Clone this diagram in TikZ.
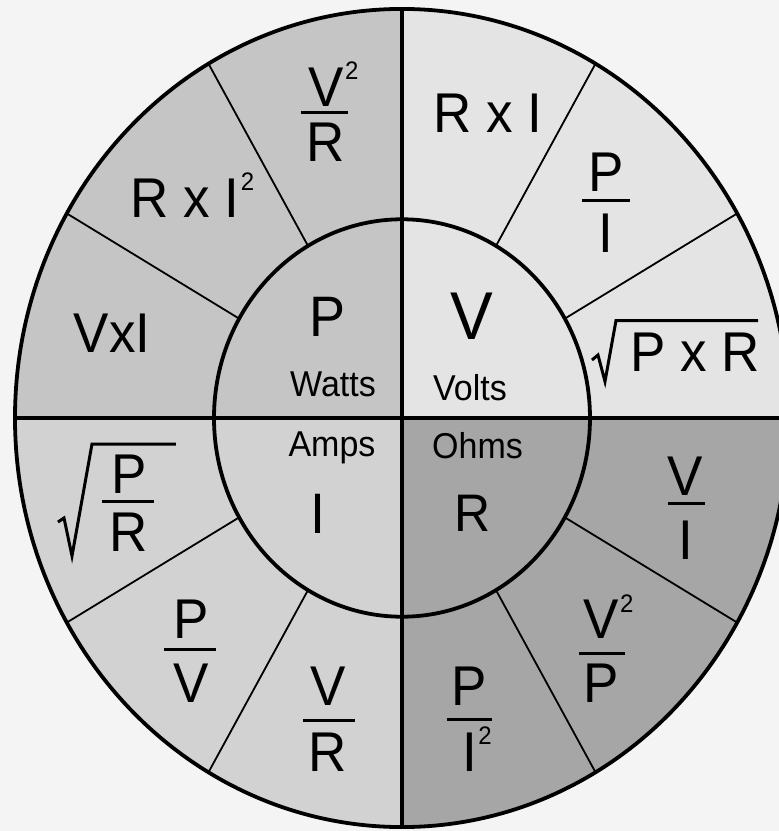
\documentclass[tikz,border=0pt]{standalone}
\usepackage{fontspec}
\setmainfont{Liberation Sans}
\newcommand\supTwo{\rlap{\hspace{1.5pt}\raisebox{25pt}{\fontsize{24}{24}\selectfont 2}}}
\definecolor{bgc}{HTML}{F4F4F4}
\definecolor{cP}{HTML}{C5C5C5}
\definecolor{cV}{HTML}{E4E4E4}
\definecolor{cI}{HTML}{D2D2D2}
\definecolor{cR}{HTML}{A6A6A6}
\begin{document}
\begin{tikzpicture}[x=1pt,y=1pt,
  txt/.style={inner sep=0pt, anchor=base, yscale=1.057, transform shape},
  big/.style={txt, font=\fontsize{53}{53}\selectfont},
  letterP/.style={txt, font=\fontsize{54}{54}\selectfont},
  letterV/.style={txt, font=\fontsize{64}{64}\selectfont},
  letterR/.style={txt, font=\fontsize{50}{50}\selectfont},
  unit/.style={txt, font=\fontsize{34}{34}\selectfont},
  thick line/.style={line width=3.8pt},
  sector line/.style={line width=1.8pt},
  fracbar/.style={line width=3pt},
  radical/.style={line width=3pt, line join=miter}]
\useasboundingbox (-402,-413) rectangle (377,418);
\fill[bgc] (-402,-413) rectangle (377,418);
\begin{scope}
\clip (-402,-413) rectangle (377,418);
\begin{scope}[yscale=1.057]
  \fill[cV] (0,0) -- (0:387) arc[start angle=0, end angle=90, radius=387] -- cycle;
  \fill[cP] (0,0) -- (90:387) arc[start angle=90, end angle=180, radius=387] -- cycle;
  \fill[cI] (0,0) -- (180:387) arc[start angle=180, end angle=270, radius=387] -- cycle;
  \fill[cR] (0,0) -- (270:387) arc[start angle=270, end angle=360, radius=387] -- cycle;
  \foreach \a in {30,60,120,150,210,240,300,330}
    \draw[sector line] (\a:188) -- (\a:387);
  \draw[thick line] (0,0) circle[radius=188];
  \draw[thick line] (-387,0) -- (400,0);
  \draw[thick line] (0,-387) -- (0,387);
  \draw[thick line] (0,0) circle[radius=387];
\end{scope}
\end{scope}
% inner labels
\node[letterP] (P) at (-74.5,82) {P};
\node[letterV] (V) at (70,78.5) {V};
\node[letterP] (I) at (-84,-115) {I};
\node[letterR] (R) at (71,-113.7) {R};
\node[unit] (watts) at (-69,22) {Watts};
\node[unit] (volts) at (68,18) {Volts};
\node[unit] (amps) at (-70,-38.7) {Amps};
\node[unit] (ohms) at (75.5,-40) {Ohms};
% P quadrant
\node[big] (pn1) at (-76,312) {V\supTwo};
\draw[fracbar] (-101,306) -- (-54,306);
\node[big] (pd1) at (-76.5,256.4) {R};
\node[big] (p2) at (-217,201) {R x I\supTwo};
\node[big] (p3) at (-290,65.6) {VxI};
% V quadrant
\node[big] (v1) at (86,285.5) {R x I};
\node[big] (vn2) at (204,227) {P};
\draw[fracbar] (180,218) -- (228,218);
\node[big] (vd2) at (204,166) {I};
\draw[radical] (190,58) -- (196,63) -- (203,36.5) -- (214,97.4) -- (356,97.4);
\node[big] (v3) at (293.5,47) {P x R};
% R quadrant
\node[big] (rn1) at (283.5,-77.5) {V};
\draw[fracbar] (266,-85.4) -- (303,-85.4);
\node[big] (rd1) at (283.5,-141) {I};
\node[big] (rn2) at (199,-220.6) {V\supTwo};
\draw[fracbar] (177,-235) -- (223,-235);
\node[big] (rd2) at (199,-284) {P};
\node[big] (rn3) at (67.5,-287) {P};
\draw[fracbar] (45,-301.7) -- (90,-301.7);
\node[big] (rd3) at (67.5,-353) {I\supTwo};
% I quadrant
\node[big] (in1) at (-74,-287) {V};
\draw[fracbar] (-99,-302.7) -- (-47,-302.7);
\node[big] (id1) at (-74,-353) {R};
\node[big] (in2) at (-211,-220.6) {P};
\draw[fracbar] (-238,-231) -- (-186,-231);
\node[big] (id2) at (-211,-284) {V};
\node[big] (in3) at (-273,-75) {P};
\draw[fracbar] (-300,-83) -- (-248,-83);
\node[big] (id3) at (-273,-133) {R};
\draw[radical] (-344,-104) -- (-338,-100) -- (-330,-138) -- (-310,-26) -- (-226,-26);
\end{tikzpicture}
\end{document}
